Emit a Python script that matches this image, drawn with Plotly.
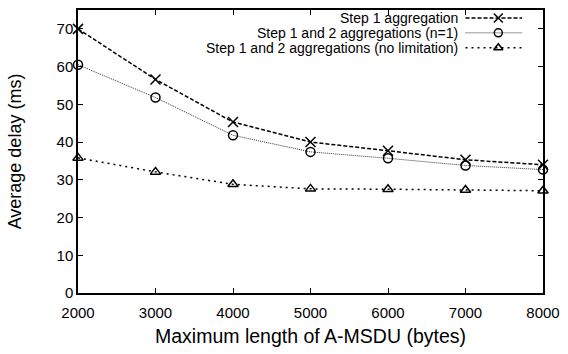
import plotly.graph_objects as go

x_vals = [2000, 3000, 4000, 5000, 6000, 7000, 8000]
step1 = [70.0, 56.6, 45.3, 40.0, 37.7, 35.3, 34.0]
step12_n1 = [60.5, 51.8, 41.8, 37.4, 35.7, 33.8, 32.7]
step12_nolim = [35.8, 32.1, 28.8, 27.6, 27.5, 27.3, 27.1]
names = ["Step 1 aggregation", "Step 1 and 2 aggregations (n=1)",
         "Step 1 and 2 aggregations (no limitation)"]
x_ticks = [2000, 3000, 4000, 5000, 6000, 7000, 8000]
y_ticks = [0, 10, 20, 30, 40, 50, 60, 70]

FONT = "Liberation Sans, Arial, sans-serif"
W, H = 568, 354
L, R, T, B = 78, 546, 8, 293

styles = [
    dict(dash="4px,2px", width=1.5, color="black", symbol="x-thin-open", size=10),
    dict(dash="1px,1px", width=1, color="#333333", symbol="circle-open", size=9),
    dict(dash="2px,4px", width=1.5, color="black", symbol="triangle-up-open", size=9),
]

fig = go.Figure()
for ys, nm, st in zip([step1, step12_n1, step12_nolim], names, styles):
    fig.add_trace(go.Scatter(
        x=x_vals, y=ys, name=nm, mode="lines+markers", cliponaxis=False,
        line=dict(color=st["color"], width=st["width"], dash=st["dash"]),
        marker=dict(symbol=st["symbol"], size=st["size"], color="black",
                    line=dict(color="black", width=1.5)),
        showlegend=False))

# manual legend (text right-aligned, sample on the right)
row_y = [16, 31, 46]
for i, (nm, st) in enumerate(zip(names, styles)):
    xp = (462 - L) / (R - L)
    yp = (B - row_y[i]) / (B - T)
    fig.add_annotation(x=xp, y=yp, xref="paper", yref="paper", text=nm,
                       showarrow=False, xanchor="right", yanchor="middle",
                       font=dict(size=14, color="black", family=FONT))
    fig.add_trace(go.Scatter(
        x=[468, 501, 525], y=[row_y[i]] * 3, xaxis="x2", yaxis="y2",
        mode="lines", showlegend=False, hoverinfo="skip", cliponaxis=False,
        line=dict(color=st["color"], width=st["width"], dash=st["dash"])))
    fig.add_trace(go.Scatter(
        x=[501], y=[row_y[i]], xaxis="x2", yaxis="y2", mode="markers",
        showlegend=False, hoverinfo="skip", cliponaxis=False,
        marker=dict(symbol=st["symbol"], size=st["size"] - 1, color="black",
                    line=dict(color="black", width=1.5))))

axis_common = dict(showline=True, linecolor="black", linewidth=1.5, mirror="ticks",
                   ticks="inside", ticklen=5, tickwidth=1, tickcolor="black",
                   showgrid=False, zeroline=False,
                   tickfont=dict(size=15, color="black", family=FONT))

fig.update_layout(
    width=W, height=H,
    margin=dict(l=L, r=W - R, t=T, b=H - B),
    paper_bgcolor="white", plot_bgcolor="white",
    font=dict(family=FONT, color="black"),
    xaxis=dict(range=[2000, 8000], tickvals=x_ticks, ticklabelstandoff=5,
               title=dict(text="Maximum length of A-MSDU (bytes)", font=dict(size=19.5), standoff=10),
               **axis_common),
    yaxis=dict(range=[0, 75], tickvals=y_ticks,
               title=dict(text="Average delay (ms)", font=dict(size=18), standoff=30),
               **axis_common),
)
fig.layout.xaxis2 = dict(range=[L, R], visible=False, overlaying="x", anchor="y2")
fig.layout.yaxis2 = dict(range=[B, T], visible=False, overlaying="y", anchor="x2")

fig.write_html("out.html")
